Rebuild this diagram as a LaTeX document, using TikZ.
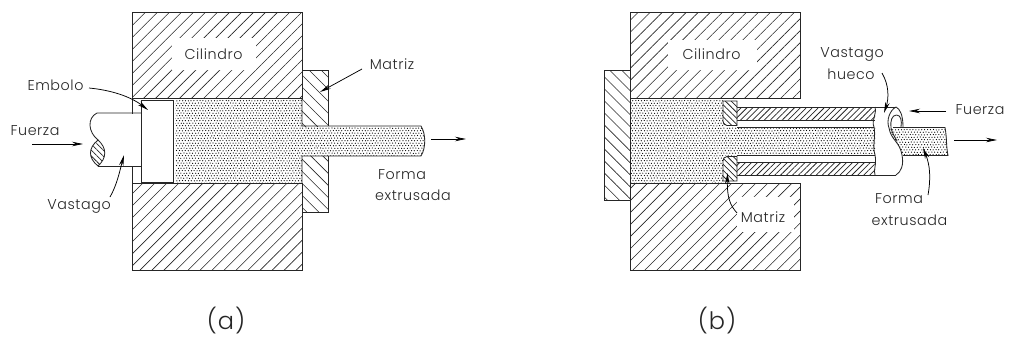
\documentclass[tikz,border=0pt]{standalone}
\usepackage{fontspec}
\setmainfont{Poppins Light}[LetterSpace=4]
\usetikzlibrary{arrows.meta,patterns.meta}
\tikzset{
  x=1pt,y=-1pt,
  outline/.style={draw=black!85,line width=.85pt},
  wide/.style={pattern={Lines[angle=45,distance=8.5pt,line width=.6pt]},pattern color=black!85},
  wideback/.style={pattern={Lines[angle=-45,distance=8.5pt,line width=.6pt]},pattern color=black!85},
  fine/.style={pattern={Lines[angle=45,distance=4.2pt,line width=.75pt]},pattern color=black!85},
  fineback/.style={pattern={Lines[angle=-45,distance=4.2pt,line width=.75pt]},pattern color=black!85},
  label/.style={font=\fontsize{14.3}{16}\selectfont,inner sep=0pt,text=black!85},
  caption/.style={font=\fontsize{24}{28}\selectfont,inner sep=0pt,text=black!85},
  leader/.style={draw=black,line width=.75pt,-{Stealth[length=11pt,width=4.5pt]}},
  mask/.style={fill=white,draw=none},
}
% lattice of stipple dots: origin x, origin y, first and last column, first and last row
\newcommand{\dotfield}[6]{\foreach \ii in {#3,...,#4} {\fill[black] \foreach \jj in {#5,...,#6} {({#1+\ii*2.9+mod(\jj,2)*1.45+0.5*rnd},{#2+\jj*2.5+0.4*rnd}) circle[radius=.62]};}}
\pgfmathsetseed{7}
\begin{document}
\begin{tikzpicture}
\useasboundingbox (0,0) rectangle (1009,338);
% ---------- (a) ----------
\path[wide] (132.5,12) rectangle (302,98);
\path[wide] (132.5,183.5) rectangle (302,270);
\path[mask] (172,38) rectangle (256,70);
\path[wideback] (302,70.5) rectangle (328,126);
\path[wideback] (302,156) rectangle (328,212);
\begin{scope}
\clip (175.5,99) -- (302,99) -- (302,126.5) -- (421,126.5) .. controls (426,134) and (426,148) .. (421,155.5) -- (302,155.5) -- (302,183) -- (175.5,183) -- cycle;
\dotfield{175}{98}{0}{44}{0}{34}
\dotfield{175}{98}{45}{87}{10}{24}
\end{scope}
\draw[outline] (132.5,12) rectangle (302,98);
\draw[outline] (132.5,183.5) rectangle (302,270);
\draw[outline] (132.5,98) -- (132.5,183.5);
\draw[outline] (302,70.5) -- (328,70.5) -- (328,126) (328,156) -- (328,212) -- (302,212);
\draw[outline] (302,98) -- (302,126) -- (421,126) .. controls (426,134) and (426,148) .. (421,156) -- (302,156) -- (302,183.5);
\path[mask] (100,113.5) rectangle (141,165.5);
\path[fineback] (98,140) .. controls (88,148) and (88,158) .. (98,166) .. controls (107,158) and (107,148) .. (98,140) -- cycle;
\draw[outline] (98,140) .. controls (88,148) and (88,158) .. (98,166) .. controls (107,158) and (107,148) .. (98,140) -- cycle;
\draw[outline] (141,113) -- (97,113) .. controls (87,118) and (88,132) .. (98,140);
\draw[outline] (98,166) -- (141,166);
\draw[outline,fill=white] (141,100.5) rectangle (173,182);
\node[label] (cilA) at (213.5,54) {Cilindro};
\node[label] (embolo) at (55.5,85) {Embolo};
\node[label] (fuerzaA) at (35,131) {Fuerza};
\node[label] (vastago) at (79,206) {Vastago};
\node[label] (matrizA) at (392,64) {Matriz};
\node[label] (formaA) at (402,175) {Forma};
\node[label] (extrA) at (413,195) {extrusada};
\node[caption] (capA) at (226,321) {(a)};
\coordinate (ta) at (148,110); \coordinate (tb) at (124,155); \coordinate (tc) at (320,92);
\coordinate (fa1) at (32,144); \coordinate (fa2) at (83,144);
\coordinate (oa1) at (431,139); \coordinate (oa2) at (466,139);
\draw[leader] (89,88) .. controls (110,90) and (130,96) .. (ta);
\draw[leader] (110,197) .. controls (117,185) and (120,170) .. (tb);
\draw[leader] (362,69) -- (tc);
\draw[leader] (fa1) -- (fa2);
\draw[leader] (oa1) -- (oa2);
% ---------- (b) ----------
\path[wide] (630,12) rectangle (800,98);
\path[wide] (630,183.5) rectangle (800,270);
\path[mask] (668,40) rectangle (757,70);
\path[mask] (737,197) rectangle (794,232);
\path[wideback] (604,70.5) rectangle (630,200.5);
\begin{scope}
\clip (631,99) -- (724,99) -- (724,127) -- (875,127) -- (875,155.5) -- (724,155.5) -- (724,183) -- (631,183) -- cycle;
\dotfield{631}{98}{0}{32}{0}{34}
\dotfield{631}{98}{33}{85}{10}{24}
\end{scope}
\draw[outline] (630,12) rectangle (800,98);
\draw[outline] (630,183.5) rectangle (800,270);
\draw[outline] (630,98) -- (630,183.5);
\draw[outline] (630,70.5) -- (604,70.5) -- (604,200.5) -- (630,200.5);
% hollow stem
\path[fine] (737,107.5) rectangle (875,120);
\path[fine] (737,162) rectangle (875,175);
\draw[outline] (737,107) -- (896,107) (737,120) -- (875,120) (737,127) -- (874,127) (737,155.5) -- (875,155.5) (737,162) -- (875,162) (737,175) -- (896,175);
% matrix pieces
\path[fill=white] (723,101) rectangle (737,125.5) (723,156.5) rectangle (737,181);
\path[fineback,draw=black!85,line width=.85pt] (723,101) -- (737,101) -- (737,125.5) -- (727,125.5) .. controls (724,125.5) and (723,123) .. (723,121) -- cycle;
\path[fineback,draw=black!85,line width=.85pt] (737,156.5) -- (727,156.5) .. controls (724,156.5) and (723,159) .. (723,161) -- (723,181) -- (737,181) -- cycle;
% extruded rod beyond the tube
\begin{scope}
\clip (891,127.5) -- (945,127.5) .. controls (947,138) and (946,146) .. (948,155.5) -- (903,155.5) .. controls (901,145) and (891,138) .. (889,128) -- cycle;
\dotfield{888}{127}{0}{21}{0}{12}
\end{scope}
% broken end of tube
\draw[outline] (875,107) .. controls (877,115) and (871,120) .. (874,127) .. controls (876,138) and (872,145) .. (875,155) .. controls (877,165) and (873,170) .. (875,175);
\draw[outline] (896,107) .. controls (890,110) and (886,120) .. (889,128) .. controls (891,140) and (900,142) .. (902,155) .. controls (904,165) and (901,172) .. (896,175);
\draw[outline] (896,107) .. controls (900,109) and (903,115) .. (903,127);
\draw[outline] (896.5,115) .. controls (892,115) and (890,121) .. (891,128) .. controls (892,133) and (895,137) .. (897,141);
\draw[outline] (896.5,115) .. controls (901,115) and (902,121) .. (901,127);
\draw[outline] (893,127.5) -- (945,127.5) .. controls (947,138) and (946,146) .. (948,155.5) -- (903,155.5);
\node[label] (cilB) at (711.5,54) {Cilindro};
\node[label] (vastB) at (852,54) {Vastago};
\node[label] (hueco) at (851,74) {hueco};
\node[label] (fuerzaB) at (980,110) {Fuerza};
\node[label] (formaB) at (899,199) {Forma};
\node[label] (extrB) at (909.5,220) {extrusada};
\node[label] (matrizB) at (763,217) {Matriz};
\node[caption] (capB) at (717,321) {(b)};
\coordinate (td) at (884,113); \coordinate (te) at (923,148); \coordinate (tf) at (727.5,173);
\coordinate (fb1) at (946,111); \coordinate (fb2) at (909,111);
\coordinate (ob1) at (954,140); \coordinate (ob2) at (997,140);
\draw[leader] (882,73) .. controls (889,85) and (889,98) .. (td);
\draw[leader] (928,195) .. controls (931,178) and (930,165) .. (te);
\draw[leader] (737,213) .. controls (730,205) and (727,198) .. (tf);
\draw[leader] (fb1) -- (fb2);
\draw[leader] (ob1) -- (ob2);
\end{tikzpicture}
\end{document}
